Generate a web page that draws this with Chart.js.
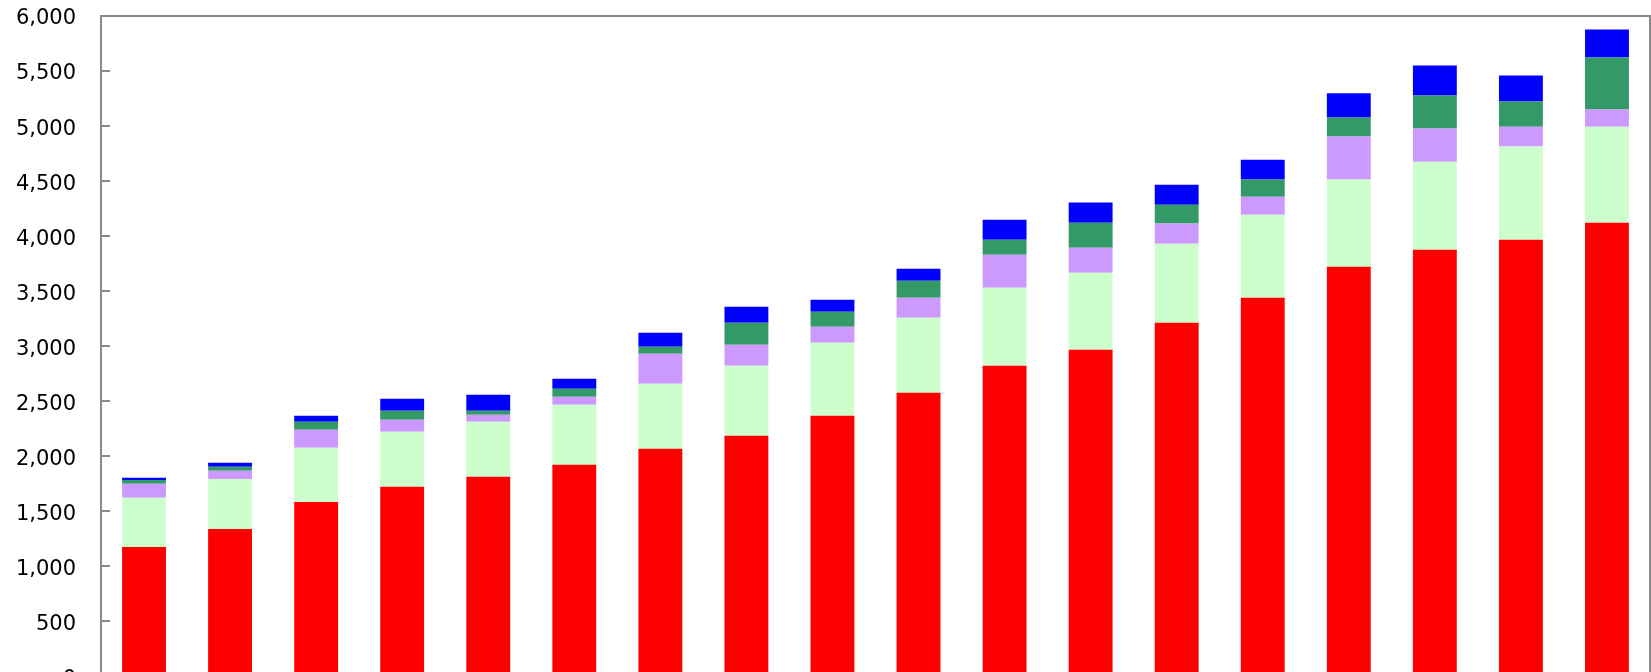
<!DOCTYPE html>
<html>
<head>
<meta charset="utf-8">
<script src="https://cdn.jsdelivr.net/npm/chart.js@4/dist/chart.umd.min.js"></script>
<style>
  html, body { margin: 0; padding: 0; background: #ffffff; overflow: hidden; }
  #wrap { position: relative; width: 1651px; height: 720px; }
</style>
</head>
<body>
<div id="wrap"><canvas id="c"></canvas></div>
<script>
// Categories (labels fall below the visible frame in the reference)
const categories = ['1', '2', '3', '4', '5', '6', '7', '8', '9', '10', '11', '12', '13', '14', '15', '16', '17', '18'];

// Stacked series, bottom to top
const seriesRed        = [1177, 1341, 1586, 1723, 1814, 1923, 2068, 2186, 2368, 2577, 2823, 2968, 3214, 3441, 3723, 3877, 3968, 4123];
const seriesLightGreen = [446, 454, 491, 500, 500, 545, 591, 637, 664, 682, 709, 700, 718, 754, 791, 800, 846, 872];
const seriesPurple     = [127, 73, 164, 109, 63, 73, 273, 191, 145, 182, 300, 227, 182, 164, 391, 300, 181, 155];
const seriesGreen      = [36, 37, 73, 82, 37, 73, 63, 200, 137, 154, 136, 228, 172, 155, 173, 300, 228, 473];
const seriesBlue       = [19, 36, 54, 109, 145, 91, 128, 145, 109, 110, 182, 182, 182, 181, 220, 273, 236, 254];

// Y axis tick range
const yMin = 0, yMax = 6000, yStep = 500;

const AXIS_GRAY = '#8a8a8a';

const framePlugin = {
  id: 'frame',
  afterDatasetsDraw(chart) {
    const ctx = chart.ctx;
    const a = chart.chartArea;
    const ys = chart.scales.y;
    ctx.save();
    ctx.strokeStyle = AXIS_GRAY;
    ctx.lineWidth = 2;
    ctx.beginPath();
    // top border
    ctx.moveTo(a.left - 1, a.top);
    ctx.lineTo(a.right + 1, a.top);
    // right border
    ctx.moveTo(a.right, a.top);
    ctx.lineTo(a.right, a.bottom);
    // inward tick marks on the value axis
    ys.ticks.forEach(t => {
      const y = Math.round(ys.getPixelForValue(t.value));
      ctx.moveTo(a.left, y);
      ctx.lineTo(a.left + 9, y);
    });
    ctx.stroke();
    ctx.restore();
  }
};

const mk = (data, color) => ({
  data, backgroundColor: color, borderWidth: 0,
  barPercentage: 0.51, categoryPercentage: 1.0
});

new Chart(document.getElementById('c'), {
  type: 'bar',
  data: {
    labels: categories,
    datasets: [
      mk(seriesRed, '#FF0000'),
      mk(seriesLightGreen, '#CCFFCC'),
      mk(seriesPurple, '#CC99FF'),
      mk(seriesGreen, '#339966'),
      mk(seriesBlue, '#0000FF')
    ]
  },
  options: {
    responsive: true,
    maintainAspectRatio: false,
    animation: false,
    layout: { padding: { top: 16, right: 1, bottom: 3.5, left: 0 } },
    plugins: { legend: { display: false }, tooltip: { enabled: false } },
    scales: {
      x: {
        stacked: true,
        grid: { display: false },
        border: { display: true, color: AXIS_GRAY, width: 2 },
        ticks: { color: '#000', font: { family: 'DejaVu Sans', size: 21 } },
        afterFit(scale) { scale.height = 40; scale.paddingLeft = 0; scale.paddingRight = 0; }
      },
      y: {
        stacked: true,
        min: yMin, max: yMax,
        grid: { display: false, drawTicks: false },
        border: { display: true, color: AXIS_GRAY, width: 2 },
        ticks: {
          stepSize: yStep,
          padding: 25,
          labelOffset: 3,
          color: '#000',
          font: { family: 'DejaVu Sans', size: 21 },
          callback: v => v.toLocaleString('en-US')
        },
        afterFit(scale) { scale.width = 101; scale.paddingTop = 0; scale.paddingBottom = 0; }
      }
    }
  },
  plugins: [framePlugin]
});
</script>
</body>
</html>
